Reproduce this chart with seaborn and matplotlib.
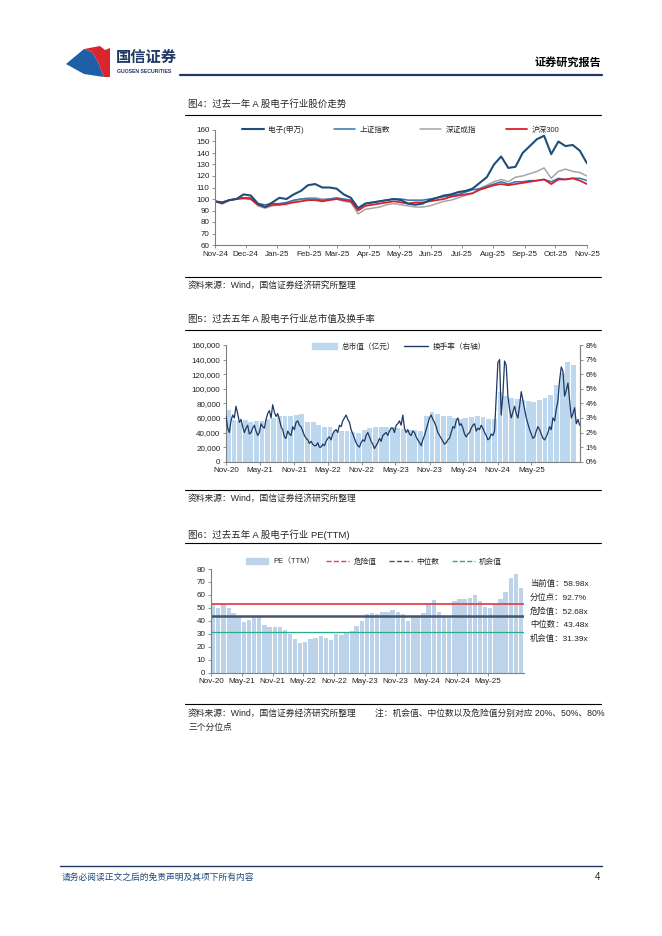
import numpy as np
import pandas as pd
import matplotlib
matplotlib.use('Agg')
import matplotlib.pyplot as plt
import matplotlib.dates as mdates
from matplotlib.patches import Polygon, Patch
from matplotlib.lines import Line2D
import seaborn as sns

sns.set_theme(style='white')
plt.rcParams['font.family'] = ['Liberation Sans', 'Noto Sans CJK SC']
plt.rcParams['axes.unicode_minus'] = False

# ---- 图4 data: weekly index levels, Nov-24 .. Nov-25
price_names = ['电子(申万)', '上证指数', '深证成指', '沪深300']
elec = [98, 97, 99, 100, 104, 103, 96, 93, 97, 101, 100, 104, 107, 112, 113, 110, 110, 109, 104, 101,
        92, 96, 97, 98, 99, 100, 99, 96, 95, 96, 99, 101, 103, 104, 106, 107, 109, 114, 119, 130,
        137, 127, 128, 140, 146, 152, 155, 139, 150, 146, 147, 142, 131]
shci = [98, 97, 99, 100, 101, 101, 96, 95, 96, 96, 97, 99, 100, 100, 100, 99, 100, 101, 100, 99,
        92, 96, 97, 98, 99, 100, 100, 99, 99, 99, 100, 101, 102, 103, 104, 106, 108, 109, 111, 113,
        115, 113, 115, 115, 116, 116, 117, 115, 118, 117, 118, 118, 116]
szci = [98, 96, 99, 100, 100, 100, 94, 92, 94, 95, 95, 98, 100, 101, 101, 100, 100, 100, 98, 97,
        87, 91, 92, 93, 95, 96, 95, 94, 93, 93, 94, 96, 98, 99, 101, 103, 105, 109, 112, 115,
        117, 115, 119, 120, 122, 124, 127, 118, 124, 126, 124, 123, 120]
hs300 = [98, 96, 99, 100, 101, 100, 95, 93, 95, 95, 96, 97, 98, 99, 99, 98, 99, 100, 99, 98,
         90, 94, 95, 96, 97, 98, 97, 96, 97, 97, 98, 99, 100, 102, 103, 104, 105, 108, 110, 112,
         113, 112, 113, 114, 115, 116, 117, 113, 117, 117, 118, 116, 113]

# ---- 图5 data: monthly market cap (亿元) and turnover (%)
mktcap = [71000, 57000, 56000, 57000, 55000, 56000, 56000, 58000, 60000, 62000, 63000, 62000,
          64000, 66000, 55000, 54000, 50000, 48000, 47000, 44000, 42000, 42000, 41000, 40000,
          44000, 46000, 47000, 47000, 48000, 47000, 46000, 45000, 44000, 43000, 42000, 62000,
          68000, 66000, 63000, 62000, 60000, 59000, 60000, 61000, 62000, 61000, 58000, 58000,
          96000, 90000, 88000, 86000, 85000, 83000, 82000, 84000, 87000, 92000, 105000, 122000,
          137000, 133000]
turnover = [3.1, 2.3, 2.0, 2.8, 3.2, 3.0, 3.8, 3.3, 2.7, 2.9, 2.4, 2.0, 2.3, 2.5, 1.9, 2.0,
            2.3, 2.5, 2.1, 1.8, 2.0, 2.6, 2.4, 2.3, 2.9, 3.3, 3.5, 3.0, 3.9, 3.4, 3.1, 3.3,
            2.9, 2.4, 2.2, 1.7, 1.6, 2.1, 1.9, 1.8, 2.4, 2.2, 2.7, 2.8, 2.5, 2.4, 2.1, 1.8,
            1.6, 1.5, 1.25, 1.4, 1.2, 1.1, 1.1, 1.3, 1.0, 1.0, 1.2, 1.1, 1.4, 1.6, 1.7, 1.5,
            1.9, 2.1, 2.2, 2.0, 2.5, 2.4, 2.8, 3.0, 3.2, 2.9, 2.7, 2.2, 1.9, 1.6, 1.3, 1.1,
            1.0, 1.3, 1.5, 1.4, 1.8, 2.0, 1.7, 1.4, 1.2, 0.9, 1.1, 1.3, 1.6, 1.4, 1.8, 1.9,
            2.0, 1.8, 2.1, 2.3, 2.3, 2.0, 2.5, 2.6, 2.8, 2.5, 3.2, 2.3, 2.0, 2.2, 1.9, 1.8,
            2.1, 2.0, 1.7, 1.5, 1.3, 1.1, 1.5, 1.8, 2.2, 2.6, 3.0, 3.2, 2.9, 2.7, 2.4, 2.0,
            1.8, 1.6, 1.4, 1.2, 1.3, 1.5, 1.6, 2.0, 2.4, 2.3, 2.8, 3.0, 2.5, 2.6, 2.3, 1.9,
            1.7, 1.9, 2.0, 2.3, 2.5, 2.6, 2.1, 2.3, 2.2, 2.5, 2.3, 2.0, 1.8, 1.5, 1.6, 1.9,
            1.8, 2.1, 4.5, 6.8, 7.0, 3.2, 4.6, 6.9, 6.6, 4.5, 3.6, 3.0, 3.4, 3.8, 3.3, 3.0,
            3.8, 4.8, 4.2, 3.6, 3.0, 2.6, 2.2, 1.9, 1.6, 1.7, 2.1, 2.4, 2.2, 1.9, 1.6, 1.5,
            1.7, 2.0, 2.4, 2.2, 3.0, 2.8, 3.6, 4.2, 5.6, 6.5, 6.2, 4.5, 4.9, 5.4, 4.2, 3.0,
            3.3, 3.7, 2.6, 2.9, 2.5]

# ---- 图6 data: monthly PE(TTM), Nov-20 .. Nov-25
pe = [52, 50, 54, 50, 46, 44, 39, 41, 44, 44, 37, 35, 35, 35, 33, 30, 26, 23, 24, 26,
      27, 28, 27, 25, 30, 29, 31, 32, 36, 40, 45, 46, 45, 47, 47, 48, 47, 45, 40, 44,
      44, 46, 54, 56, 47, 44, 42, 55, 57, 57, 58, 60, 55, 51, 50, 52, 57, 62, 73, 76, 65]
pe_danger = 52.68
pe_median = 43.48
pe_chance = 31.39
pe_current = 58.98
pe_pctile = 92.7

W, H = 662, 936
fig = plt.figure(figsize=(W / 100, H / 100), dpi=100)
fig.patch.set_facecolor('white')

page = fig.add_axes([0, 0, 1, 1])
page.set_xlim(0, W)
page.set_ylim(H, 0)
page.axis('off')


def axes_at(x0, y0, x1, y1):
    return fig.add_axes([x0 / W, 1 - y1 / H, (x1 - x0) / W, (y1 - y0) / H])


def style_axes(ax, right=False):
    for s in ['top', 'right']:
        ax.spines[s].set_visible(False)
    for s in ['left', 'bottom'] + (['right'] if right else []):
        ax.spines[s].set_visible(True)
        ax.spines[s].set_color('#808080')
        ax.spines[s].set_linewidth(0.8)
    ax.tick_params(axis='both', direction='out', length=2.5, width=0.6, color='#808080',
                   labelsize=5.8, labelcolor='#222222', pad=1.5,
                   left=True, bottom=True)
    ax.grid(False)
    ax.set_xlabel('')
    ax.set_ylabel('')
    ax.set_facecolor('none')


# ---------------- header ----------------
navy = '#1F3864'
page.add_patch(Polygon([(66, 64), (84, 49), (92, 52), (98, 62), (104, 77), (84, 74)],
                       closed=True, color='#1F5FA8', lw=0))
page.add_patch(Polygon([(84, 49), (100, 46), (105, 50), (110, 48), (110, 77), (104, 77),
                        (98, 62), (92, 52)], closed=True, color='#D9252E', lw=0))
page.text(116, 58, '国信证券', fontsize=11, color=navy, va='center', ha='left', fontweight='bold')
page.text(117, 71.5, 'GUOSEN SECURITIES', fontsize=3.7, color=navy, va='center', ha='left',
          fontweight='bold')
page.text(601, 62, '证券研究报告', fontsize=8, color='black', va='center', ha='right',
          fontweight='bold')
page.plot([180, 602], [74.5, 74.5], color=navy, lw=1.6)

# rules and captions
for y in [115, 277, 330, 489.5, 543, 704]:
    page.plot([185, 601], [y, y], color='black', lw=0.8)
page.text(188, 104, '图4：过去一年 A 股电子行业股价走势', fontsize=6.8, va='center')
page.text(188, 285, '资料来源：Wind，国信证券经济研究所整理', fontsize=6.3, va='center')
page.text(188, 319, '图5：过去五年 A 股电子行业总市值及换手率', fontsize=6.8, va='center')
page.text(188, 498, '资料来源：Wind，国信证券经济研究所整理', fontsize=6.3, va='center')
page.text(188, 535, '图6：过去五年 A 股电子行业 PE(TTM)', fontsize=6.8, va='center')
page.text(188, 713, '资料来源：Wind，国信证券经济研究所整理', fontsize=6.3, va='center')
page.text(375, 713, '注：机会值、中位数以及危险值分别对应 20%、50%、80%', fontsize=6.3, va='center')
page.text(188, 727, '三个分位点', fontsize=6.3, va='center')

# footer
page.plot([60, 602], [866, 866], color=navy, lw=1.0)
page.text(62, 877, '请务必阅读正文之后的免责声明及其项下所有内容', fontsize=6.3,
          color='#1F497D', va='center')
page.text(600, 877, '4', fontsize=7, va='center', ha='right')

# ---------------- 图4 ----------------
ax1 = axes_at(215, 130, 587, 245)
d1 = mdates.date2num(pd.date_range('2024-11-01', '2025-11-01', periods=len(elec)))
price = pd.DataFrame({'date': d1, price_names[0]: elec, price_names[1]: shci,
                      price_names[2]: szci, price_names[3]: hs300})
price_colors = {price_names[0]: '#1F4E79', price_names[1]: '#2E75B6',
                price_names[2]: '#A6A6A6', price_names[3]: '#D7202E'}
price_lw = {price_names[0]: 1.5, price_names[1]: 1.1, price_names[2]: 1.1, price_names[3]: 1.3}
for name in [price_names[2], price_names[1], price_names[3], price_names[0]]:
    sns.lineplot(data=price, x='date', y=name, color=price_colors[name], lw=price_lw[name], ax=ax1)
style_axes(ax1)
ax1.set_ylim(60, 160)
ax1.set_yticks(np.arange(60, 161, 10))
ax1.set_xlim(mdates.date2num(pd.Timestamp('2024-11-01')), mdates.date2num(pd.Timestamp('2025-11-01')))
ax1.set_xticks(mdates.date2num(pd.date_range('2024-11-01', '2025-11-01', freq='MS')))
ax1.xaxis.set_major_formatter(mdates.DateFormatter('%b-%y'))
h1 = [Line2D([], [], color=price_colors[n], lw=price_lw[n]) for n in price_names]
ax1.legend(h1, price_names, loc='center', bbox_to_anchor=(0.5, 1.0), ncol=4, frameon=False,
           fontsize=5.5, handlelength=2.8, columnspacing=3.9, handletextpad=0.6)

# ---------------- 图5 ----------------
ax2 = axes_at(226, 345, 580, 461.7)
m2 = mdates.date2num(pd.date_range('2020-11-01', periods=len(mktcap), freq='MS'))
ax2.bar(m2, mktcap, width=26, align='edge', color='#BDD7EE', lw=0)
style_axes(ax2, right=True)
ax2.set_ylim(0, 160000)
ax2.set_yticks(np.arange(0, 160001, 20000))
ax2.yaxis.set_major_formatter(matplotlib.ticker.FuncFormatter(lambda v, p: f'{v:,.0f}'))
x_lo = mdates.date2num(pd.Timestamp('2020-11-01'))
ax2.set_xlim(x_lo, mdates.date2num(pd.Timestamp('2026-01-18')))
ticks6 = mdates.date2num(pd.date_range('2020-11-01', '2025-05-01', freq='6MS'))
ax2.set_xticks(ticks6)
ax2.xaxis.set_major_formatter(mdates.DateFormatter('%b-%y'))

ax2r = ax2.twinx()
t2 = mdates.date2num(pd.date_range('2020-11-01', '2026-01-16', periods=len(turnover)))
sns.lineplot(x=t2, y=turnover, color='#1F3864', lw=0.9, ax=ax2r)
ax2r.set_ylim(0, 8)
ax2r.set_yticks(np.arange(0, 9, 1))
ax2r.yaxis.set_major_formatter(matplotlib.ticker.FuncFormatter(lambda v, p: f'{v:.0f}%'))
for s in ['top', 'left', 'bottom']:
    ax2r.spines[s].set_visible(False)
ax2r.spines['right'].set_visible(True)
ax2r.spines['right'].set_color('#808080')
ax2r.spines['right'].set_linewidth(0.8)
ax2r.tick_params(axis='y', direction='out', length=2.5, width=0.6, color='#808080',
                 labelsize=5.8, labelcolor='#222222', pad=1.5, right=True)
ax2r.set_ylabel('')
ax2r.grid(False)
h2 = [Patch(color='#BDD7EE'), Line2D([], [], color='#1F3864', lw=1.0)]
ax2r.legend(h2, ['总市值（亿元）', '换手率（右轴）'], loc='center', bbox_to_anchor=(0.49, 0.985),
            ncol=2, frameon=False, fontsize=5.5, handlelength=3.2, columnspacing=1.2,
            handletextpad=0.6)

# ---------------- 图6 ----------------
ax3 = axes_at(211, 569, 524, 672.7)
m3 = mdates.date2num(pd.date_range('2020-11-01', periods=len(pe), freq='MS'))
ax3.bar(m3, pe, width=26, align='edge', color='#BDD3EA', lw=0)
ax3.axhline(pe_danger, color='#E2434F', lw=1.3)
ax3.axhline(pe_median, color='#44546A', lw=1.8)
ax3.axhline(pe_chance, color='#2AAE8A', lw=0.9)
style_axes(ax3)
ax3.set_ylim(0, 80)
ax3.set_yticks(np.arange(0, 81, 10))
ax3.set_xlim(x_lo, mdates.date2num(pd.Timestamp('2025-12-01')))
ax3.set_xticks(ticks6)
ax3.xaxis.set_major_formatter(mdates.DateFormatter('%b-%y'))
h3 = [Patch(color='#BDD3EA'),
      Line2D([], [], color='#E2434F', lw=1.0, ls='--'),
      Line2D([], [], color='#44546A', lw=1.0, ls='--'),
      Line2D([], [], color='#2AAE8A', lw=1.0, ls='--')]
ax3.legend(h3, ['PE（TTM）', '危险值', '中位数', '机会值'], loc='center',
           bbox_to_anchor=(0.52, 1.07), ncol=4, frameon=False, fontsize=5.5,
           handlelength=3.0, columnspacing=1.6, handletextpad=0.6)

notes = [f'当前值：{pe_current:.2f}x', f'分位点：{pe_pctile:.1f}%', f'危险值：{pe_danger:.2f}x',
         f'中位数：{pe_median:.2f}x', f'机会值：{pe_chance:.2f}x']
for i, s in enumerate(notes):
    page.text(530, 584 + i * 13.7, s, fontsize=6, va='center', ha='left', color='#222222')

fig.savefig('out.png', dpi=100)
